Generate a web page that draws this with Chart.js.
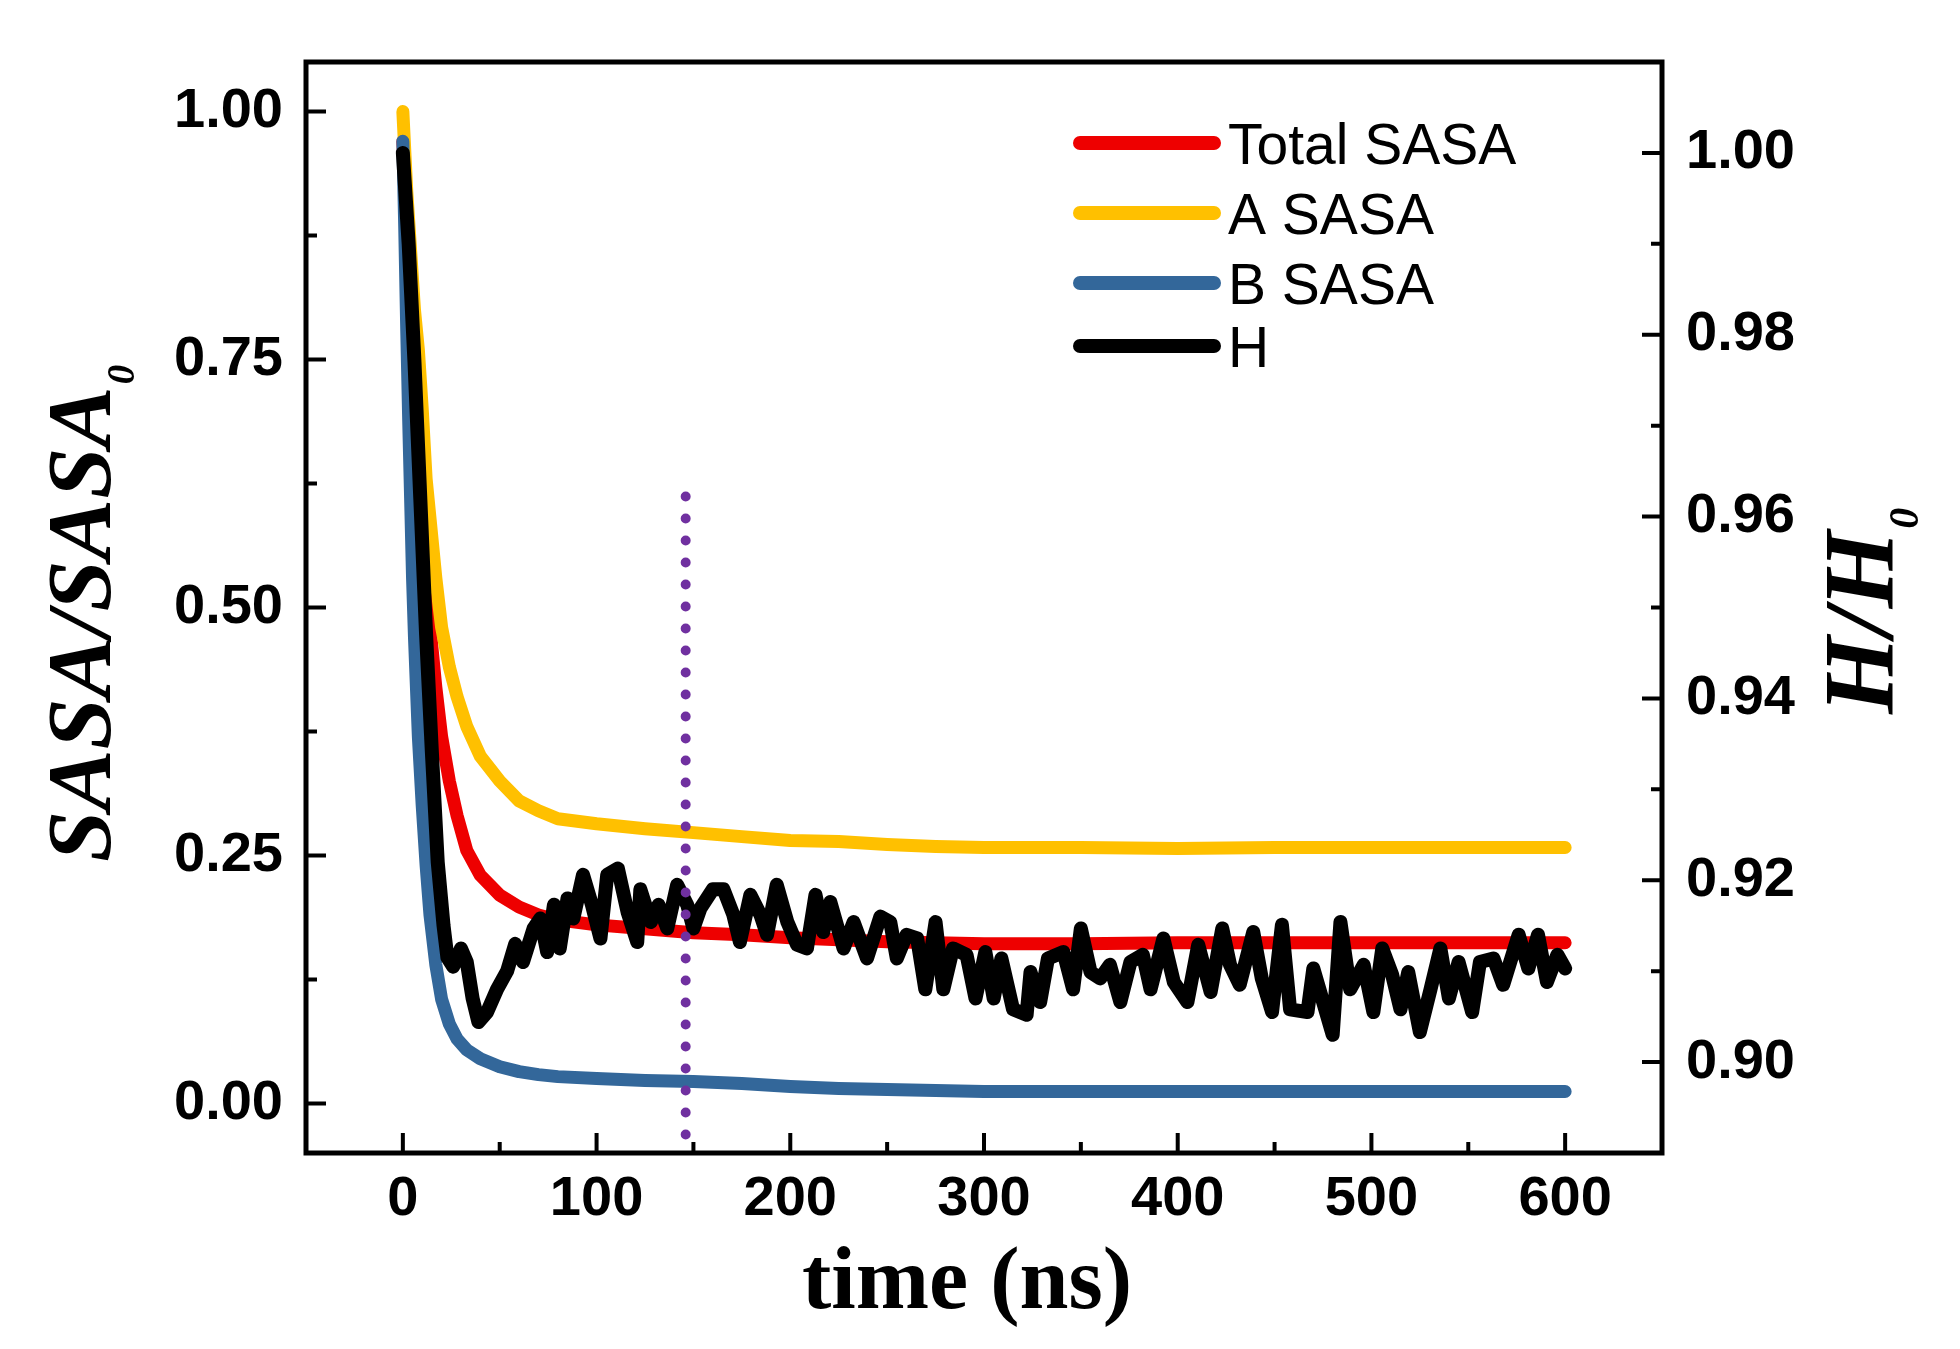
<!DOCTYPE html>
<html>
<head>
<meta charset="utf-8">
<script src="https://cdn.jsdelivr.net/npm/chart.js@4/dist/chart.umd.min.js"></script>
<style>
  html, body { margin: 0; padding: 0; background: #fff; }
  canvas { display: block; }
</style>
</head>
<body>
<canvas id="sasaChart" width="1960" height="1349"></canvas>
<script>
// time samples (ns) shared by the three SASA curves
const sasaTime = [0, 1, 2, 3, 4, 5, 6, 8, 10, 12, 14, 17, 20, 24, 28, 33, 40, 50, 60, 70, 80,
    100, 125, 150, 175, 200, 225, 250, 275, 300, 350, 400, 450, 500, 550, 600];

const totalSasa = [0.97, 0.93, 0.89, 0.85, 0.81, 0.77, 0.73, 0.66, 0.59, 0.53, 0.48, 0.42, 0.37, 0.325, 0.29, 0.255, 0.23, 0.21, 0.198, 0.19, 0.185,
    0.18, 0.176, 0.172, 0.17, 0.167, 0.165, 0.163, 0.162, 0.161, 0.161, 0.162, 0.162, 0.162, 0.162, 0.162];

const aSasa = [1.0, 0.96, 0.92, 0.89, 0.86, 0.83, 0.80, 0.76, 0.70, 0.63, 0.59, 0.53, 0.48, 0.44, 0.41, 0.38, 0.35, 0.325, 0.305, 0.295, 0.287,
    0.282, 0.277, 0.273, 0.269, 0.265, 0.264, 0.261, 0.259, 0.258, 0.258, 0.257, 0.258, 0.258, 0.258, 0.258];

const bSasa = [0.97, 0.88, 0.78, 0.69, 0.61, 0.53, 0.47, 0.37, 0.30, 0.24, 0.19, 0.14, 0.105, 0.08, 0.065, 0.054, 0.045, 0.037, 0.032, 0.029, 0.027,
    0.025, 0.023, 0.022, 0.02, 0.017, 0.015, 0.014, 0.013, 0.012, 0.012, 0.012, 0.012, 0.012, 0.012, 0.012];

// H/H0, right axis
const hTime = [0, 3, 6, 9, 12, 15, 18, 21, 23, 26, 30, 33, 36, 39, 43.5, 48.6, 53.8, 58, 62, 67.5, 71, 74.5, 78, 81, 85, 88, 93, 97.6,
    102, 105.5, 111, 116, 121, 122.6, 128, 132, 136.5, 141.6, 146.8, 150, 153.6, 160, 165.5, 170.6, 174, 179.4, 184.6, 188, 193, 198.5,
    203.5, 208.6, 213, 217, 220.7, 227.5, 232.7, 239.6, 246.5, 251.6, 255, 260, 265.5, 269.7, 275, 279, 284, 291, 295.6, 300.7,
    305, 309, 315, 322, 324, 329, 333, 341, 346, 350, 355, 360, 365, 370.4, 375.6, 382, 386, 392.6, 398,
    405, 410.6, 417, 423, 427, 432, 439, 443.4, 448.7, 453.8, 458, 467, 470, 480, 484, 489, 496,
    501, 505.6, 510.7, 515, 519, 525, 530.5, 535.6, 540, 545, 552, 556, 563, 568, 576, 581, 586, 590.6, 596, 600];

const hRatio = [1.0, 0.99, 0.977, 0.962, 0.947, 0.934, 0.922, 0.915, 0.9115, 0.9105, 0.9125, 0.911, 0.907, 0.9044, 0.9055, 0.908, 0.910, 0.913, 0.911, 0.9147, 0.9158, 0.9121, 0.9173, 0.9125, 0.918, 0.9158, 0.9206, 0.9173,
    0.9136, 0.9206, 0.9213, 0.9165, 0.9132, 0.919, 0.9154, 0.9173, 0.9147, 0.9195, 0.9173, 0.9147, 0.9169, 0.919, 0.919, 0.9162, 0.9132, 0.9184, 0.9162, 0.914, 0.9195, 0.9154,
    0.9129, 0.9125, 0.9184, 0.9143, 0.9176, 0.9125, 0.9154, 0.9114, 0.916, 0.9154, 0.9114, 0.914, 0.9136, 0.908, 0.9154, 0.908, 0.9125, 0.9118, 0.907, 0.9121,
    0.907, 0.9114, 0.9058, 0.9052, 0.9099, 0.9066, 0.9114, 0.9121, 0.908, 0.9147, 0.9099, 0.9092, 0.9107, 0.9066, 0.911, 0.9118, 0.908, 0.9136, 0.9088,
    0.9066, 0.9129, 0.9077, 0.9147, 0.9107, 0.9085, 0.9143, 0.9092, 0.9055, 0.9151, 0.9058, 0.9055, 0.9103, 0.903, 0.9154, 0.908, 0.9107,
    0.9055, 0.9125, 0.9096, 0.9058, 0.9099, 0.9033, 0.908, 0.9125, 0.907, 0.911, 0.9055, 0.911, 0.9114, 0.9085, 0.914, 0.9103, 0.914, 0.9088, 0.9118, 0.9103];

// dotted marker line
const markerTime = [146, 146];
const markerLevel = [0.612, -0.05];

const xTicks = { min: -50, max: 650, step: 50, major: 100 };
const leftTicks = { min: -0.05, max: 1.05, step: 0.125, major: 0.25 };
const rightTicks = { min: 0.89, max: 1.01, step: 0.01, major: 0.02 };

const toPoints = (xs, ys) => xs.map((x, i) => ({ x: x, y: ys[i] }));
const isMultiple = (v, m) => Math.abs(v / m - Math.round(v / m)) < 1e-6;

const tickFont = { family: 'Liberation Sans', size: 56, weight: 'bold' };

// frame + inward tick marks
const frameTicks = {
    id: 'frameTicks',
    afterDatasetsDraw(chart) {
        const { ctx, chartArea: a, scales } = chart;
        ctx.save();
        ctx.strokeStyle = '#000';
        ctx.lineWidth = 4;
        ctx.lineCap = 'butt';
        ctx.beginPath();
        scales.x.ticks.forEach(t => {
            if (t.value <= xTicks.min || t.value >= xTicks.max) return;
            const px = scales.x.getPixelForValue(t.value);
            const len = isMultiple(t.value, xTicks.major) ? 20 : 11;
            ctx.moveTo(px, a.bottom);
            ctx.lineTo(px, a.bottom - len);
        });
        scales.y.ticks.forEach(t => {
            if (t.value <= leftTicks.min || t.value >= leftTicks.max) return;
            const py = scales.y.getPixelForValue(t.value);
            const len = isMultiple(t.value, leftTicks.major) ? 20 : 11;
            ctx.moveTo(a.left, py);
            ctx.lineTo(a.left + len, py);
        });
        scales.y1.ticks.forEach(t => {
            if (t.value <= rightTicks.min + 1e-9 || t.value >= rightTicks.max - 1e-9) return;
            const py = scales.y1.getPixelForValue(t.value);
            const len = isMultiple(t.value, rightTicks.major) ? 20 : 11;
            ctx.moveTo(a.right, py);
            ctx.lineTo(a.right - len, py);
        });
        ctx.stroke();
        ctx.lineWidth = 5;
        ctx.strokeRect(a.left, a.top, a.right - a.left, a.bottom - a.top);
        ctx.restore();
    }
};

function drawRotatedTitle(ctx, main, sub, x, yStart, size) {
    ctx.save();
    ctx.translate(x, yStart);
    ctx.rotate(-Math.PI / 2);
    ctx.fillStyle = '#000';
    ctx.textAlign = 'left';
    ctx.textBaseline = 'alphabetic';
    ctx.font = `italic bold ${size}px "Liberation Serif"`;
    ctx.fillText(main, 0, 0);
    const w = ctx.measureText(main).width;
    ctx.font = `italic bold ${Math.round(size * 0.42)}px "Liberation Serif"`;
    ctx.fillText(sub, w + 2, size * 0.26);
    ctx.restore();
}

const axisTitles = {
    id: 'axisTitles',
    afterDraw(chart) {
        const ctx = chart.ctx;
        ctx.save();
        ctx.fillStyle = '#000';
        ctx.font = 'bold 88px "Liberation Serif"';
        ctx.textAlign = 'center';
        ctx.textBaseline = 'alphabetic';
        ctx.fillText('time (ns)', 967, 1308);
        ctx.restore();
        drawRotatedTitle(ctx, 'SASA/SASA', '0', 110, 862, 92);
        drawRotatedTitle(ctx, 'H/H', '0', 1892, 714, 100);
    }
};

// legend drawn inside the plot, top right
const insideLegend = {
    id: 'insideLegend',
    afterDraw(chart, args, opts) {
        const ctx = chart.ctx;
        const items = chart.data.datasets.filter(d => d.label);
        ctx.save();
        ctx.font = `${opts.fontSize}px "Liberation Sans"`;
        ctx.textAlign = 'left';
        ctx.textBaseline = 'alphabetic';
        items.forEach((d, i) => {
            const y = opts.rows[i];
            ctx.strokeStyle = d.borderColor;
            ctx.lineWidth = 14;
            ctx.lineCap = 'round';
            ctx.beginPath();
            ctx.moveTo(opts.x1, y);
            ctx.lineTo(opts.x2, y);
            ctx.stroke();
            ctx.fillStyle = '#000';
            ctx.fillText(d.label, opts.textX, y + opts.fontSize * 0.36);
        });
        ctx.restore();
    }
};

const ctx = document.getElementById('sasaChart').getContext('2d');
new Chart(ctx, {
    type: 'line',
    data: {
        datasets: [
            {
                label: 'Total SASA',
                data: toPoints(sasaTime, totalSasa),
                borderColor: '#EE0000',
                borderWidth: 13,
                yAxisID: 'y',
                order: 4
            },
            {
                label: 'A SASA',
                data: toPoints(sasaTime, aSasa),
                borderColor: '#FFC000',
                borderWidth: 13,
                yAxisID: 'y',
                order: 3
            },
            {
                label: 'B SASA',
                data: toPoints(sasaTime, bSasa),
                borderColor: '#33679A',
                borderWidth: 13,
                yAxisID: 'y',
                order: 2
            },
            {
                label: 'H',
                data: toPoints(hTime, hRatio),
                borderColor: '#000000',
                borderWidth: 14,
                yAxisID: 'y1',
                order: 1
            },
            {
                data: toPoints(markerTime, markerLevel),
                borderColor: '#7030A0',
                borderWidth: 10,
                borderDash: [0, 22],
                borderCapStyle: 'round',
                yAxisID: 'y',
                order: 0
            }
        ]
    },
    options: {
        responsive: false,
        animation: false,
        layout: { padding: { top: 62, left: 0, right: 0, bottom: 0 } },
        elements: {
            point: { radius: 0, hoverRadius: 0 },
            line: { tension: 0, borderJoinStyle: 'round', borderCapStyle: 'round', fill: false }
        },
        plugins: {
            legend: { display: false },
            tooltip: { enabled: false },
            insideLegend: { rows: [143, 213, 283, 346], x1: 1080, x2: 1214, textX: 1228, fontSize: 57 }
        },
        scales: {
            x: {
                type: 'linear',
                min: xTicks.min,
                max: xTicks.max,
                grid: { display: false, drawTicks: false },
                border: { display: false },
                ticks: {
                    stepSize: xTicks.step,
                    autoSkip: false,
                    maxRotation: 0,
                    padding: 13,
                    color: '#000',
                    font: tickFont,
                    callback: v => isMultiple(v, xTicks.major) ? String(v) : ''
                },
                afterFit: s => { s.height = 196; }
            },
            y: {
                type: 'linear',
                position: 'left',
                min: leftTicks.min,
                max: leftTicks.max,
                grid: { display: false, drawTicks: false },
                border: { display: false },
                ticks: {
                    stepSize: leftTicks.step,
                    includeBounds: false,
                    autoSkip: false,
                    padding: 23,
                    color: '#000',
                    font: tickFont,
                    callback: v => isMultiple(v, leftTicks.major) ? v.toFixed(2) : ''
                },
                afterFit: s => { s.width = 306; }
            },
            y1: {
                type: 'linear',
                position: 'right',
                min: rightTicks.min,
                max: rightTicks.max,
                grid: { display: false, drawTicks: false },
                border: { display: false },
                ticks: {
                    stepSize: rightTicks.step,
                    autoSkip: false,
                    padding: 24,
                    color: '#000',
                    font: tickFont,
                    callback: v => isMultiple(v, rightTicks.major) ? v.toFixed(2) : ''
                },
                afterFit: s => { s.width = 298; }
            }
        }
    },
    plugins: [frameTicks, axisTitles, insideLegend]
});
</script>
</body>
</html>
